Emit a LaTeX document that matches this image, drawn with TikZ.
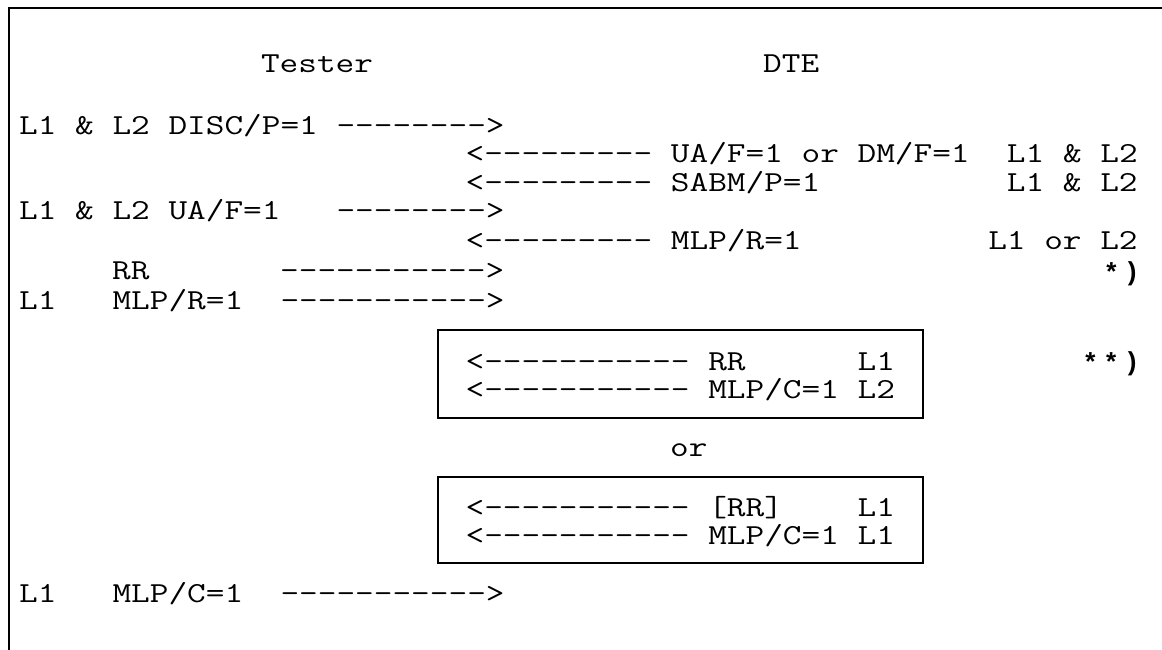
\documentclass[tikz,border=0pt]{standalone}
\usepackage{fontspec}
\setmainfont{Liberation Serif}
\setmonofont{Latin Modern Mono}[FakeStretch=1.25]
\newfontfamily\starfont{Liberation Sans}
\newcommand\mycell[1]{\makebox[21pt]{#1}}
\begin{document}
\begin{tikzpicture}[x=1pt,y=1pt,
  txt/.style={anchor=base west,inner sep=0pt,font=\ttfamily\fontsize{29}{29}\selectfont},
  note/.style={anchor=base east,inner sep=0pt,font=\starfont\bfseries\fontsize{26}{26}\selectfont},
  frame/.style={draw=black,line width=2pt},
  altbox/.style={draw=black,line width=2pt}]
\useasboundingbox (0,0) rectangle (1162,-650);
% outer frame (top and left sides only)
\coordinate (ftr) at (1162,-8);
\coordinate (ftl) at (9,-8);
\coordinate (fbl) at (9,-650);
\draw[frame] (ftr) -- (ftl) -- (fbl);
% headings
\node[txt] (tester) at (260.8,-73) {Tester};
\node[txt] (dte) at (763,-73) {DTE};
% exchange lines
\node[txt] (l1) at (19,-135) {L1~\&~L2~DISC/P=1~-------->};
\node[txt] (l2) at (465.4,-163) {<---------~UA/F=1~or~DM/F=1~~L1~\&~L2};
\node[txt] (l3) at (465.4,-191) {<---------~SABM/P=1~~~~~~~~~~L1~\&~L2};
\node[txt] (l4) at (19,-219) {L1~\&~L2~UA/F=1~~~-------->};
\node[txt] (l5) at (465.4,-249) {<---------~MLP/R=1~~~~~~~~~~L1~or~L2};
\node[txt] (l6) at (112,-279) {RR~~~~~~~----------->};
\node[note] (n1) at (1143,-280) {\mycell{*}\mycell{)}};
\node[txt] (l7) at (19,-309) {L1~~~MLP/R=1~~----------->};
% first alternative
\coordinate (b1tl) at (438,-330);
\coordinate (b1br) at (923,-418);
\draw[altbox] (b1tl) rectangle (b1br);
\node[txt] (b1a) at (465.4,-370) {<-----------~RR~~~~~~L1};
\node[txt] (b1b) at (465.4,-398) {<-----------~MLP/C=1~L2};
\node[note] (n2) at (1143,-370) {\mycell{*}\mycell{*}\mycell{)}};
\node[txt] (or) at (670,-456.5) {or};
% second alternative
\coordinate (b2tl) at (438,-477);
\coordinate (b2br) at (923,-563);
\draw[altbox] (b2tl) rectangle (b2br);
\node[txt] (b2a) at (465.4,-516) {<-----------~[RR]~~~~L1};
\node[txt] (b2b) at (465.4,-544) {<-----------~MLP/C=1~L1};
% final line
\node[txt] (l8) at (19,-602) {L1~~~MLP/C=1~~----------->};
\end{tikzpicture}
\end{document}
